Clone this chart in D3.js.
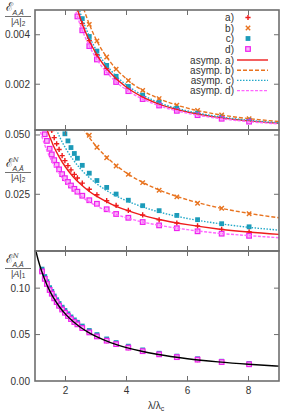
<!DOCTYPE html>
<html><head><meta charset="utf-8">
<script src="https://cdn.jsdelivr.net/npm/d3@7"></script>
<style>
body{margin:0;background:#fff;}
svg text{font-family:"Liberation Sans",Arial,sans-serif;}
</style></head>
<body><svg id="c" width="285" height="417"></svg>
<script>
// ---------------- data ----------------
const xTicks = [2, 4, 6, 8];
const xTickLabels = ["2", "4", "6", "8"];
const p1Ticks = [0.002, 0.004];
const p1TickLabels = ["0.002", "0.004"];
const p2Ticks = [0.025, 0.05];
const p2TickLabels = ["0.025", "0.050"];
const p3Ticks = [0, 0.05, 0.10];
const p3TickLabels = ["0.00", "0.05", "0.10"];
const seriesNames = ["a)", "b)", "c)", "d)"];
const asympNames = ["asymp. a)", "asymp. b)", "asymp. c)", "asymp. d)"];

// panel 1 points
const p1X = [2.39, 2.55, 2.78, 3.03, 3.35, 3.66, 4.06, 4.53, 5.07, 5.65, 6.33, 7.12, 8.02];
const p1A = [0.00504, 0.00445, 0.00376, 0.00319, 0.00264, 0.00222, 0.00183, 0.00149, 0.00121, 0.00098, 0.000796, 0.000643, 0.000518];
const p1B = [0.00593, 0.00523, 0.00442, 0.00375, 0.00310, 0.00261, 0.00215, 0.00175, 0.00142, 0.001156, 0.000937, 0.000756, 0.000609];
const p1C = [0.00528, 0.00465, 0.00393, 0.00334, 0.00276, 0.00232, 0.00191, 0.00156, 0.00126, 0.00103, 0.000834, 0.000673, 0.000542];
const p1D = [0.00474, 0.00418, 0.00354, 0.00300, 0.00248, 0.00209, 0.00172, 0.00140, 0.00114, 0.000925, 0.000750, 0.000605, 0.000487];
// panel 1 asymptotes
const p1LX = [2.0, 2.25, 2.5, 2.75, 3.0, 3.5, 4.0, 4.5, 5.0, 6.0, 7.0, 8.0, 9.0];
const p1LA = [0.00711, 0.00566, 0.00462, 0.00384, 0.00325, 0.00242, 0.00188, 0.00150, 0.00123, 0.000879, 0.000662, 0.000519, 0.000421];
const p1LB = [0.00837, 0.00666, 0.00543, 0.00452, 0.00382, 0.00285, 0.00221, 0.00177, 0.001452, 0.001034, 0.000779, 0.000611, 0.000495];
const p1LC = [0.00745, 0.00593, 0.00483, 0.00402, 0.00340, 0.00254, 0.00197, 0.00158, 0.00129, 0.000920, 0.000693, 0.000544, 0.000440];
const p1LD = [0.00670, 0.00533, 0.00434, 0.00362, 0.00306, 0.00228, 0.00177, 0.00142, 0.00116, 0.000827, 0.000623, 0.000489, 0.000396];

// panel 2 points
const p2X = [1.23, 1.32, 1.39, 1.48, 1.55, 1.63, 1.71, 1.79, 1.89, 1.98, 2.08, 2.18, 2.29, 2.39, 2.55, 2.78, 3.03, 3.35, 3.66, 4.06, 4.53, 5.07, 5.65, 6.33, 7.12, 8.02];
const p2A = [0.069, 0.0631, 0.0592, 0.0549, 0.0519, 0.0489, 0.0463, 0.0439, 0.0413, 0.0392, 0.0371, 0.0353, 0.0334, 0.0319, 0.0297, 0.0271, 0.0248, 0.0223, 0.0203, 0.0182, 0.0163, 0.0142, 0.0129, 0.0117, 0.0102, 0.0092];
const p2B = [0.12, 0.11, 0.103, 0.096, 0.092, 0.087, 0.082, 0.078, 0.074, 0.071, 0.067, 0.0640, 0.0611, 0.0583, 0.0545, 0.0499, 0.0448, 0.0404, 0.0369, 0.0334, 0.0299, 0.0267, 0.0239, 0.0212, 0.0191, 0.0168];
const p2C = [0.080, 0.074, 0.070, 0.066, 0.062, 0.059, 0.0565, 0.0545, 0.0530, 0.0505, 0.0475, 0.0447, 0.0422, 0.0402, 0.0372, 0.0339, 0.0308, 0.0279, 0.0251, 0.0225, 0.0202, 0.0181, 0.0161, 0.0143, 0.0126, 0.0113];
const p2D = [0.0545, 0.0503, 0.0475, 0.0442, 0.0418, 0.0394, 0.0374, 0.0355, 0.0335, 0.0318, 0.0302, 0.0287, 0.0273, 0.0261, 0.0244, 0.0225, 0.0210, 0.0187, 0.0167, 0.0151, 0.0133, 0.0119, 0.0107, 0.0094, 0.0084, 0.0075];
// panel 2 asymptotes
const p2LX = [1.0, 1.1, 1.2, 1.3, 1.4, 1.5, 1.6, 1.8, 2.0, 2.25, 2.5, 2.75, 3.0, 3.5, 4.0, 4.5, 5.0, 6.0, 7.0, 8.0, 9.0];
const p2LA = [0.073, 0.0664, 0.0608, 0.0562, 0.0521, 0.0487, 0.0456, 0.0406, 0.0365, 0.0324, 0.0292, 0.0265, 0.0243, 0.0209, 0.0183, 0.0162, 0.0146, 0.0122, 0.0104, 0.0091, 0.0081];
const p2LB = [0.136, 0.1236, 0.1133, 0.1046, 0.0971, 0.0907, 0.085, 0.0756, 0.068, 0.0604, 0.0544, 0.0495, 0.0453, 0.0389, 0.034, 0.0302, 0.0272, 0.0227, 0.0194, 0.017, 0.0151];
const p2LC = [0.089, 0.0809, 0.0742, 0.0685, 0.0636, 0.0593, 0.0556, 0.0494, 0.0445, 0.0396, 0.0356, 0.0324, 0.0297, 0.0254, 0.0223, 0.0198, 0.0178, 0.0148, 0.0127, 0.0111, 0.0099];
const p2LD = [0.0605, 0.055, 0.0504, 0.0465, 0.0432, 0.0403, 0.0378, 0.0336, 0.0303, 0.0269, 0.0242, 0.022, 0.0202, 0.0173, 0.0151, 0.0134, 0.0121, 0.0101, 0.0086, 0.0076, 0.0067];

// panel 3 points
const p3X = [1.23, 1.32, 1.39, 1.48, 1.55, 1.63, 1.71, 1.79, 1.89, 1.98, 2.08, 2.18, 2.29, 2.39, 2.55, 2.78, 3.03, 3.35, 3.66, 4.06, 4.53, 5.07, 5.65, 6.33, 7.12, 8.02];
const p3D = [0.118, 0.110, 0.1045, 0.098, 0.094, 0.089, 0.085, 0.081, 0.077, 0.0735, 0.070, 0.0667, 0.0635, 0.061, 0.057, 0.0523, 0.048, 0.0434, 0.0397, 0.0359, 0.0321, 0.0287, 0.0257, 0.0230, 0.0204, 0.0180];
const p3C = [0.1205, 0.1125, 0.107, 0.1005, 0.0965, 0.0915, 0.0875, 0.0835, 0.0795, 0.076, 0.0724, 0.069, 0.0658, 0.0632, 0.0592, 0.0544, 0.050, 0.0453, 0.0414, 0.0375, 0.0335, 0.0299, 0.0268, 0.0240, 0.0213, 0.0188];
const p3A = [0.118, 0.110, 0.1045, 0.098, 0.094, 0.089, 0.085, 0.081, 0.077, 0.0735, 0.070, 0.0667, 0.0635, 0.061, 0.057, 0.0523, 0.048, 0.0434, 0.0397, 0.0359, 0.0321, 0.0287, 0.0257, 0.0230, 0.0204, 0.0180];
const p3B = [0.1185, 0.1105, 0.105, 0.0985, 0.0945, 0.0895, 0.0855, 0.0815, 0.0775, 0.074, 0.0705, 0.0672, 0.064, 0.0614, 0.0574, 0.0527, 0.0484, 0.0437, 0.040, 0.0362, 0.0324, 0.0289, 0.0259, 0.0232, 0.0206, 0.0181];
// panel 3 asymptote
const p3LX = [1.0, 1.1, 1.2, 1.3, 1.4, 1.5, 1.6, 1.8, 2.0, 2.25, 2.5, 2.75, 3.0, 3.5, 4.0, 4.5, 5.0, 6.0, 7.0, 8.0, 9.0];
const p3L = [0.144, 0.1309, 0.12, 0.1108, 0.1029, 0.096, 0.09, 0.08, 0.072, 0.064, 0.0576, 0.0524, 0.048, 0.0411, 0.036, 0.032, 0.0288, 0.024, 0.0206, 0.018, 0.016];

// ---------------- styles ----------------
const COL = {a: "#ee1c1c", b: "#e8731f", c: "#1c9ab8", d: "#ee22ee"};
const LINECOL = {a: "#ee1c1c", b: "#e8731f", c: "#22a8c8", d: "#ff66ff"};
const DASH = {a: null, b: "4,2", c: "1.5,1.5", d: "3,1.5"};

const svg = d3.select("#c");
const L = 35, R = 279;
const x = d3.scaleLinear().domain([1, 9]).range([L, R]);

const panels = [
  {top: 10, bot: 130, dom: [0.00015, 0.005], ticks: p1Ticks, labels: p1TickLabels},
  {top: 130, bot: 251, dom: [0.0011, 0.0521], ticks: p2Ticks, labels: p2TickLabels},
  {top: 251, bot: 381, dom: [0, 0.14], ticks: p3Ticks, labels: p3TickLabels}
];
panels.forEach((p, i) => {
  p.y = d3.scaleLinear().domain(p.dom).range([p.bot, p.top]);
  svg.append("clipPath").attr("id", "clip" + i).append("rect")
    .attr("x", L).attr("y", p.top).attr("width", R - L).attr("height", p.bot - p.top);
});

function plus(g, cx, cy, c) {
  g.append("path").attr("d", `M${cx-2.6},${cy}H${cx+2.6}M${cx},${cy-2.6}V${cy+2.6}`)
    .attr("stroke", c).attr("stroke-width", 1.4).attr("fill", "none");
}
function cross(g, cx, cy, c) {
  g.append("path").attr("d", `M${cx-2.2},${cy-2.2}L${cx+2.2},${cy+2.2}M${cx-2.2},${cy+2.2}L${cx+2.2},${cy-2.2}`)
    .attr("stroke", c).attr("stroke-width", 1.4).attr("fill", "none");
}
function fsq(g, cx, cy, c) {
  g.append("rect").attr("x", cx - 2.4).attr("y", cy - 2.4).attr("width", 4.8).attr("height", 4.8).attr("fill", c);
}
function osq(g, cx, cy, c) {
  g.append("rect").attr("x", cx - 2.3).attr("y", cy - 2.3).attr("width", 4.6).attr("height", 4.6)
    .attr("fill", "#f8b8f8").attr("stroke", c).attr("stroke-width", 1.2);
}
const MARK = {a: plus, b: cross, c: fsq, d: osq};

function drawPoints(i, xs, ys, key) {
  const p = panels[i];
  const g = svg.append("g").attr("clip-path", `url(#clip${i})`);
  xs.forEach((xv, k) => MARK[key](g, x(xv), p.y(ys[k]), COL[key]));
}
function drawLine(i, xs, ys, key, colOverride) {
  const p = panels[i];
  const line = d3.line().x(d => x(d[0])).y(d => p.y(d[1])).curve(d3.curveMonotoneX);
  svg.append("path").attr("clip-path", `url(#clip${i})`)
    .attr("d", line(xs.map((v, k) => [v, ys[k]])))
    .attr("fill", "none").attr("stroke", colOverride || LINECOL[key]).attr("stroke-width", 1.4)
    .attr("stroke-dasharray", DASH[key]);
}

drawPoints(0, p1X, p1A, "a"); drawPoints(0, p1X, p1B, "b"); drawPoints(0, p1X, p1C, "c"); drawPoints(0, p1X, p1D, "d");
drawLine(0, p1LX, p1LA, "a"); drawLine(0, p1LX, p1LB, "b"); drawLine(0, p1LX, p1LC, "c"); drawLine(0, p1LX, p1LD, "d");
drawPoints(1, p2X, p2A, "a"); drawPoints(1, p2X, p2B, "b"); drawPoints(1, p2X, p2C, "c"); drawPoints(1, p2X, p2D, "d");
drawLine(1, p2LX, p2LA, "a"); drawLine(1, p2LX, p2LB, "b"); drawLine(1, p2LX, p2LC, "c"); drawLine(1, p2LX, p2LD, "d");
drawPoints(2, p3X, p3A, "a"); drawPoints(2, p3X, p3B, "b"); drawPoints(2, p3X, p3C, "c"); drawPoints(2, p3X, p3D, "d");
drawLine(2, p3LX, p3L, "a", "#000");

// frames & ticks
const FR = "#6e6e6e";
panels.forEach((p, i) => {
  const g = svg.append("g");
  g.append("rect").attr("x", L).attr("y", p.top).attr("width", R - L).attr("height", p.bot - p.top)
    .attr("fill", "none").attr("stroke", FR).attr("stroke-width", 1.6);
  xTicks.forEach(t => {
    g.append("line").attr("x1", x(t)).attr("x2", x(t)).attr("y1", p.bot).attr("y2", p.bot - 5).attr("stroke", FR).attr("stroke-width", 1);
    g.append("line").attr("x1", x(t)).attr("x2", x(t)).attr("y1", p.top).attr("y2", p.top + 5).attr("stroke", FR).attr("stroke-width", 1);
  });
  p.ticks.forEach((t, k) => {
    const yy = p.y(t);
    if (yy > p.top + 1 && yy < p.bot - 1) {
      g.append("line").attr("x1", L).attr("x2", L + 5).attr("y1", yy).attr("y2", yy).attr("stroke", FR).attr("stroke-width", 1);
      g.append("line").attr("x1", R).attr("x2", R - 5).attr("y1", yy).attr("y2", yy).attr("stroke", FR).attr("stroke-width", 1);
    }
    g.append("text").attr("x", L - 5).attr("y", yy + 3.5).attr("text-anchor", "end")
      .attr("font-size", 10).attr("fill", "#333").text(p.labels[k]);
  });
});
xTicks.forEach((t, k) => {
  svg.append("text").attr("x", x(t)).attr("y", 394).attr("text-anchor", "middle")
    .attr("font-size", 10).attr("fill", "#333").text(xTickLabels[k]);
});
const xl = svg.append("text").attr("x", 148).attr("y", 409).attr("font-size", 10).attr("fill", "#333");
xl.append("tspan").text("λ/λ");
xl.append("tspan").attr("font-size", 7).attr("dy", 2).text("c");

// y labels (fractions)
function yLabel(cy, sup, den) {
  const g = svg.append("g").attr("fill", "#333");
  const t = g.append("text").attr("x", 6).attr("y", cy - 5).attr("font-size", 12)
    .attr("font-family", "DejaVu Sans, sans-serif");
  t.append("tspan").text("ℰ");
  if (sup) t.append("tspan").attr("font-size", 6.5).attr("dy", -5).attr("font-family", "DejaVu Serif, serif").attr("font-style", "italic").text(sup);
  g.append("text").attr("x", 12.5).attr("y", cy - 1.2).attr("font-size", 7).attr("font-style", "italic")
    .attr("font-family", "DejaVu Serif, serif").text("A,Ā");
  g.append("line").attr("x1", 5).attr("x2", 31).attr("y1", cy + 0.5).attr("y2", cy + 0.5).attr("stroke", "#333").attr("stroke-width", 0.7);
  const d = g.append("text").attr("x", 11).attr("y", cy + 8.5).attr("font-size", 9).attr("font-family", "DejaVu Serif, serif");
  d.append("tspan").text("|");
  d.append("tspan").attr("font-style", "italic").text("A");
  d.append("tspan").text("|");
  d.append("tspan").attr("font-size", 6.5).attr("dy", 1.5).text(den);
}
yLabel(16, null, "2");
yLabel(172, "N", "2");
yLabel(268, "N", "1");

// legend
const lg = svg.append("g");
const keys = ["a", "b", "c", "d"];
keys.forEach((k, i) => {
  const yy = 17.5 + i * 10.5;
  lg.append("text").attr("x", 234).attr("y", yy + 3.5).attr("text-anchor", "end").attr("font-size", 10).attr("fill", "#333").text(seriesNames[i]);
  MARK[k](lg, 248, yy, COL[k]);
});
keys.forEach((k, i) => {
  const yy = 60 + i * 10.2;
  lg.append("text").attr("x", 234).attr("y", yy + 3.5).attr("text-anchor", "end").attr("font-size", 10).attr("fill", "#333").text(asympNames[i]);
  lg.append("line").attr("x1", 237).attr("x2", 268).attr("y1", yy).attr("y2", yy)
    .attr("stroke", LINECOL[k]).attr("stroke-width", 1.4).attr("stroke-dasharray", DASH[k]);
});
</script></body></html>
